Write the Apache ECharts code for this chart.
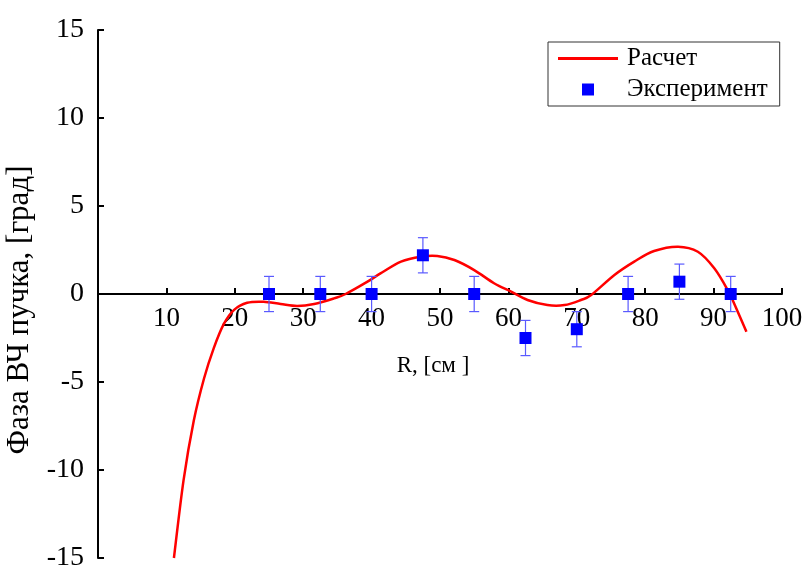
<!DOCTYPE html>
<html>
<head>
<meta charset="utf-8">
<script src="https://cdn.jsdelivr.net/npm/echarts@6/dist/echarts.min.js"></script>
<style>
  html, body { margin: 0; padding: 0; background: #fff; }
  #chart { width: 804px; height: 567px; }
</style>
</head>
<body>
<div id="chart"></div>
<script>
// Расчет - расчетная кривая (R, фаза)
var calcR = [11.1, 12.5, 14.0, 15.5, 16.9, 18.4, 19.9, 21.8, 24.2, 26.7, 29.1, 31.6, 34.5, 36.2, 39.4,
  41.3, 44.3, 47.2, 49.6, 52.1, 55.0, 57.9, 60.4, 62.8, 65.7, 68.2, 70.6, 72.1, 75.5, 78.4,
  81.3, 84.8, 87.7, 90.1, 92.1, 93.1, 94.8];
var calcPhase = [-15.0, -10.6, -7.2, -4.8, -3.1, -1.7, -0.9, -0.5, -0.44, -0.57, -0.68, -0.57, -0.25, 0, 0.7,
  1.17, 1.84, 2.12, 2.16, 1.93, 1.36, 0.61, 0.13, -0.34, -0.63, -0.63, -0.34, -0.06, 1.08, 1.84,
  2.44, 2.69, 2.4, 1.46, 0.2, -0.63, -2.14];

// Эксперимент
var expR = [25, 32.5, 40, 47.5, 55, 62.5, 70, 77.5, 85, 92.5];
var expPhase = [0, 0, 0, 2.2, 0, -2.5, -2, 0, 0.7, 0];
var expErr = [1, 1, 1, 1, 1, 1, 1, 1, 1, 1];

var xTicks = [0, 100, 10];
var yTicks = [-15, 15, 5];

var fontSerif = '"Liberation Serif", "DejaVu Serif", serif';

var calcData = calcR.map(function (r, i) { return [r, calcPhase[i]]; });
var expData = expR.map(function (r, i) { return [r, expPhase[i]]; });
var errData = expR.map(function (r, i) { return [r, expPhase[i], expErr[i]]; });

var chart = echarts.init(document.getElementById('chart'), null, { renderer: 'canvas' });

// x axis is drawn through y = 0: shift it up from the grid bottom
var gridTop = 30, gridBottom = 9;
var plotH = 567 - gridTop - gridBottom;
var zeroShift = plotH * (0 - yTicks[0]) / (yTicks[1] - yTicks[0]);

// smooth curve through the calc points (catmull-rom -> bezier), in pixel space
function renderCurve(params, api) {
  if (params.dataIndex !== 0) return null;
  var p = calcData.map(function (d) { return api.coord(d); });
  var path = 'M' + p[0][0] + ' ' + p[0][1];
  for (var i = 0; i < p.length - 1; i++) {
    var p0 = p[Math.max(i - 1, 0)], p1 = p[i], p2 = p[i + 1], p3 = p[Math.min(i + 2, p.length - 1)];
    var c1x = p1[0] + (p2[0] - p0[0]) / 6, c1y = p1[1] + (p2[1] - p0[1]) / 6;
    var c2x = p2[0] - (p3[0] - p1[0]) / 6, c2y = p2[1] - (p3[1] - p1[1]) / 6;
    path += ' C' + c1x + ' ' + c1y + ' ' + c2x + ' ' + c2y + ' ' + p2[0] + ' ' + p2[1];
  }
  return {
    type: 'path',
    shape: { pathData: path },
    style: { stroke: '#ff0000', lineWidth: 2.5, fill: 'none' }
  };
}

var option = {
  backgroundColor: '#fff',
  animation: false,
  grid: {
    left: 98,
    right: 22,
    top: gridTop,
    bottom: gridBottom,
    outerBoundsMode: 'none'
  },
  legend: {
    orient: 'vertical',
    left: 548,
    top: 42,
    padding: [4, 12, 4, 10],
    borderColor: '#333',
    borderWidth: 1,
    itemWidth: 60,
    itemHeight: 12,
    itemGap: 6,
    textStyle: { fontFamily: fontSerif, fontSize: 25, color: '#000', padding: [0, 0, 0, 4] },
    data: [
      { name: 'Расчет', icon: 'path://M0,0h60v3h-60z', itemStyle: { color: '#ff0000' } },
      { name: 'Эксперимент', icon: 'path://M0,0h10v10h-10z', itemStyle: { color: '#0000ff' } }
    ]
  },
  xAxis: {
    type: 'value',
    min: xTicks[0],
    max: xTicks[1],
    interval: xTicks[2],
    position: 'bottom',
    offset: -zeroShift,
    name: 'R, [см ]',
    nameLocation: 'middle',
    nameGap: 60,
    nameTextStyle: { fontFamily: fontSerif, fontSize: 23, color: '#000', padding: [0, 14, 0, 0] },
    axisLine: { onZero: false, lineStyle: { color: '#000', width: 2 } },
    axisTick: { inside: true, length: 6, lineStyle: { color: '#000', width: 2 } },
    axisLabel: {
      fontFamily: fontSerif, fontSize: 27, color: '#000', margin: 11,
      formatter: function (v) { return v === 0 ? '' : v; }
    },
    splitLine: { show: false }
  },
  yAxis: {
    type: 'value',
    min: yTicks[0],
    max: yTicks[1],
    interval: yTicks[2],
    name: 'Фаза ВЧ пучка, [град]',
    nameLocation: 'middle',
    nameGap: 62,
    nameTextStyle: { fontFamily: fontSerif, fontSize: 31, color: '#000', padding: [0, 32, 0, 0] },
    axisLine: { onZero: false, lineStyle: { color: '#000', width: 2 } },
    axisTick: { inside: true, length: 6, lineStyle: { color: '#000', width: 2 } },
    axisLabel: { fontFamily: fontSerif, fontSize: 28, color: '#000', margin: 14 },
    splitLine: { show: false }
  },
  series: [
    {
      name: 'Расчет',
      type: 'custom',
      data: calcData,
      encode: { x: 0, y: 1 },
      itemStyle: { color: '#ff0000' },
      renderItem: renderCurve,
      z: 3
    },
    {
      name: 'errors',
      type: 'custom',
      data: errData,
      encode: { x: 0, y: 1 },
      z: 4,
      renderItem: function (params, api) {
        var x = api.value(0), y = api.value(1), e = api.value(2);
        var top = api.coord([x, y + e]);
        var bot = api.coord([x, y - e]);
        var cap = 5;
        var st = { stroke: '#5a5aff', lineWidth: 1.2 };
        return {
          type: 'group',
          children: [
            { type: 'line', shape: { x1: top[0], y1: top[1], x2: bot[0], y2: bot[1] }, style: st },
            { type: 'line', shape: { x1: top[0] - cap, y1: top[1], x2: top[0] + cap, y2: top[1] }, style: st },
            { type: 'line', shape: { x1: bot[0] - cap, y1: bot[1], x2: bot[0] + cap, y2: bot[1] }, style: st }
          ]
        };
      }
    },
    {
      name: 'Эксперимент',
      type: 'scatter',
      symbol: 'rect',
      symbolSize: 12,
      data: expData,
      itemStyle: { color: '#0000ff', opacity: 1 },
      z: 5
    }
  ]
};

chart.setOption(option);
</script>
</body>
</html>
